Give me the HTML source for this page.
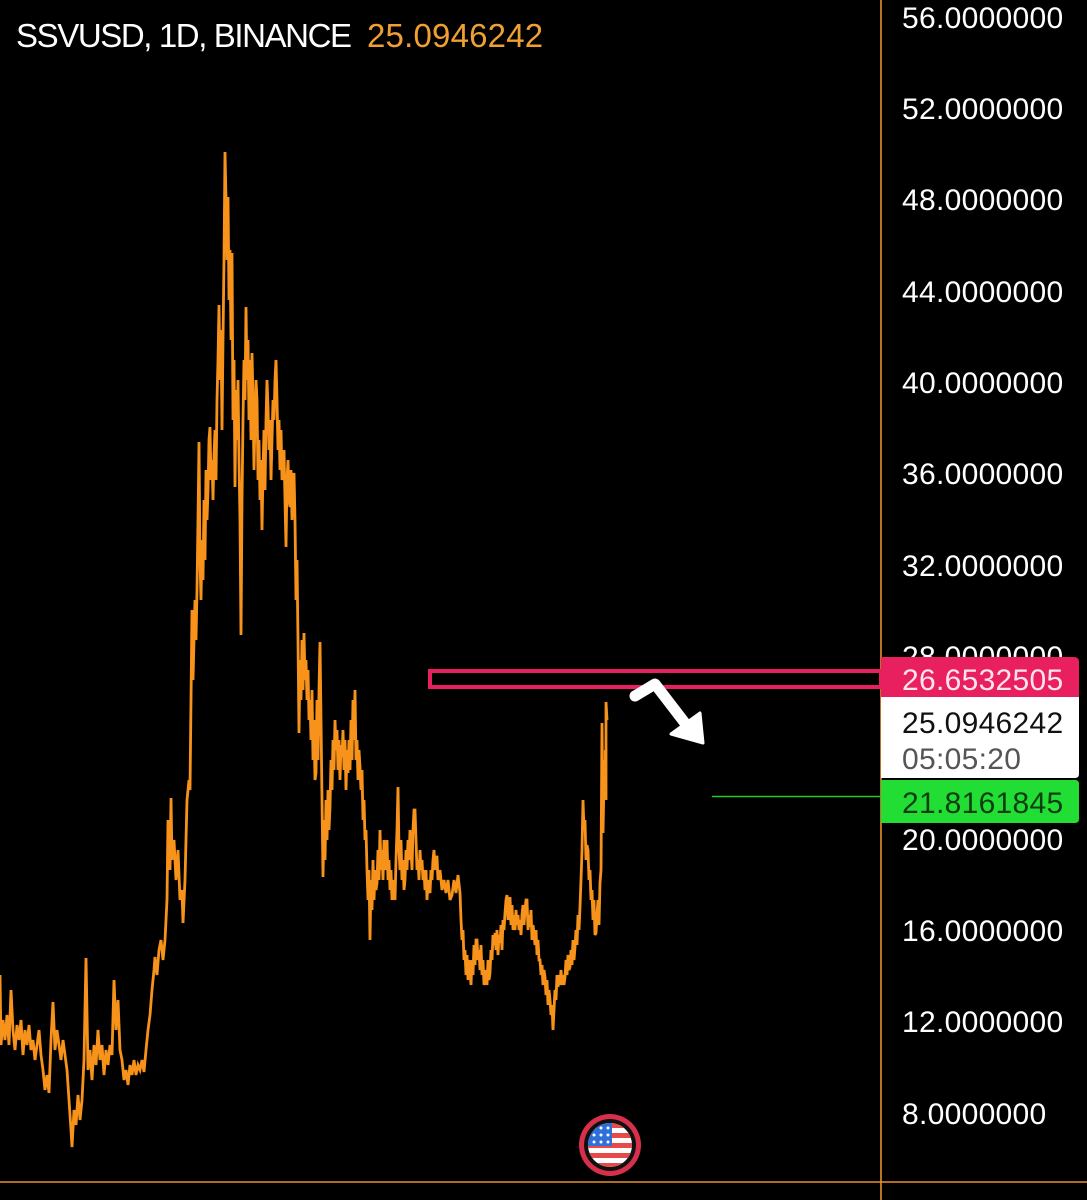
<!DOCTYPE html>
<html>
<head>
<meta charset="utf-8">
<style>
  html,body{margin:0;padding:0;background:#000;}
  body{width:1087px;height:1200px;overflow:hidden;}
  svg{display:block;}
  text{font-family:"Liberation Sans", Arial, sans-serif;}
</style>
</head>
<body>
<svg width="1087" height="1200" viewBox="0 0 1087 1200" xmlns="http://www.w3.org/2000/svg">
  <rect x="0" y="0" width="1087" height="1200" fill="#000"/>

  <!-- axes lines -->
  <line x1="881" y1="0" x2="881" y2="1200" stroke="#e8912a" stroke-width="1.6"/>
  <line x1="0" y1="1182" x2="1087" y2="1182" stroke="#e8912a" stroke-width="1.6"/>

  <!-- title -->
  <text x="16" y="47" font-size="33" fill="#ffffff" letter-spacing="-1.4">SSVUSD, 1D, BINANCE</text>
  <text x="367" y="47" font-size="33" fill="#f0a033" letter-spacing="0.2">25.0946242</text>

  <!-- price axis labels -->
  <g font-size="30" fill="#ffffff" letter-spacing="0.3">
    <text x="902" y="28">56.0000000</text>
    <text x="902" y="119">52.0000000</text>
    <text x="902" y="210">48.0000000</text>
    <text x="902" y="302">44.0000000</text>
    <text x="902" y="393">40.0000000</text>
    <text x="902" y="484">36.0000000</text>
    <text x="902" y="576">32.0000000</text>
    <text x="902" y="667">28.0000000</text>
    <text x="902" y="850">20.0000000</text>
    <text x="902" y="941">16.0000000</text>
    <text x="902" y="1032">12.0000000</text>
    <text x="902" y="1124">8.0000000</text>
  </g>

  <!-- price series -->
  <polyline fill="none" stroke="#f7931a" stroke-width="2.8" stroke-linejoin="miter" points="
0,975 1,1045 3,1020 5,1040 7,1015 9,1045 11,990 13,1030 15,1050 17,1025 19,1040 21,1020 23,1055 25,1030 27,1045 29,1025 31,1050 33,1040 35,1060 37,1045 39,1030 41,1055 43,1070 45,1090 47,1075 49,1093 51,1040 53,1002 55,1050 57,1030 59,1045 61,1060 63,1040 65,1055 67,1070 69,1100 71,1130 72,1147 74,1110 76,1125 78,1095 80,1120 82,1100 84,1060 86,958 88,1070 90,1050 92,1080 94,1045 96,1065 98,1030 100,1060 102,1045 104,1075 106,1050 108,1065 110,1045 112,1055 114,980 116,1030 118,1000 120,1050 122,1060 124,1080 126,1070 128,1085 130,1065 132,1075 134,1060 136,1075 138,1065 140,1070 142,1060 144,1072 146,1050 148,1030 150,1015 152,990 154,970 155,957 157,975 159,950 161,940 163,960 165,940 167,900 168,820 169,830 170,870 171,798 172,860 174,840 176,880 178,850 180,900 182,890 183,923 185,880 187,800 189,780 190,790
191,700 192,610 193,680 194,640 195,600 196,640 197,590 198,520 199,442 200,560 201,600 202,540 203,580 204,500 205,560 206,470 207,520 208,490 209,440 210,427 211,480 212,460 213,500 214,455 215,430 216,480 217,400 218,360 219,305 220,380 221,330 222,430 223,340 224,260 225,152 226,200 227,260 228,197 229,300 230,250 231,340 232,253 233,420 234,360 235,487 236,390 237,440 238,380 239,460 240,520 241,635 242,500 243,420 244,360 245,400 246,307 247,380 248,340 249,420 250,360 251,440 252,353 253,400 254,470 255,420 256,380 257,400 258,480 259,440 260,500 261,460 262,530 263,470 264,430 265,490 266,420 267,380 268,407 269,450 270,420 271,480 272,440 273,400 274,420 275,380 276,360 277,400 278,450 279,420 280,470 281,430 282,480 283,473 284,450 285,500 286,547 287,480 288,460 289,500 290,507 291,470 292,520 293,480 294,473 295,520 296,600 297,560 298,640 299,733 300,660
301,700 302,640 303,690 304,633 305,680 306,660 307,700 308,670 309,720 310,700 311,740 312,690 313,760 314,720 315,780 316,773 317,700 318,760 319,690 320,642 321,720 322,800 323,877 324,820 325,860 326,800 327,840 328,790 329,830 330,807 331,760 332,790 333,740 334,770 335,720 336,750 337,730 338,770 339,740 340,780 341,745 342,757 343,730 344,770 345,740 346,790 347,750 348,773 349,740 350,770 351,720 352,760 353,700 354,740 355,690 356,760 357,740 358,780 359,750 360,767 361,790 362,770 363,820 364,800 365,840 366,830 367,870 368,900 369,870 370,940 371,880 372,910 373,860 374,900 375,870 376,890 377,883 378,850 379,880 380,830 381,870 382,850 383,880 384,840 385,850 386,870 387,840 388,880 389,860 390,890 391,870 392,900 393,880 394,890 395,900 396,860 397,830 398,787 399,850 400,870
401,840 402,880 403,860 404,890 405,880 406,850 407,870 408,840 409,860 410,830 411,850 412,870 413,830 414,810 415,810 416,840 417,870 418,860 419,880 420,850 421,870 422,860 423,880 424,870 425,890 426,870 427,900 428,880 429,890 430,893 431,870 432,880 433,860 434,850 435,870 436,857 437,857 438,880 440,870 442,890 444,880 446,893 448,880 450,900 452,895 454,880 456,893 458,875 460,893 461,920 462,940 463,930 464,960 465,950 466,975 467,955 468,980 469,960 470,970 471,985 472,960 473,975 474,945 475,965 476,940 477,940 478,960 479,950 480,970 481,945 482,975 483,960 484,985 485,980 486,970 487,985 488,960 489,980 490,973 491,950 492,960 493,935 494,945 495,933 496,950 497,930 498,955 499,935 500,943
501,925 502,950 503,920 504,930 505,913 506,900 507,895 508,920 509,910 510,897 511,925 512,905 513,930 514,915 515,930 516,910 517,925 518,915 519,930 520,920 521,935 522,915 523,905 524,925 525,910 526,900 527,900 528,930 529,915 530,927 531,910 532,940 533,925 534,933 535,945 536,930 537,955 538,940 539,960 540,960 541,975 542,965 543,985 544,970 545,977 546,995 547,980 548,1005 549,990 550,1000 551,1015 552,1005 553,1030 554,1010 555,990 556,1000 557,975 558,987 559,975 560,985 561,970 562,985 563,975 564,985 565,977 566,960 567,975 568,955 569,970 570,967 571,950 572,965 573,940 574,960 575,947 576,930 577,945 578,915 579,930 580,907 581,880 582,850 583,800 584,830 585,820 586,860 587,845 588,850 589,880 590,870 591,900 592,890 593,920 594,900 595,935 596,933 597,915 598,900 599,925 600,883 601,870 602,723 603,833 604,780 605,760 606,800 606,702 607,720
"/>
  <!-- last candle body emphasis -->
  <line x1="605.5" y1="750" x2="605.5" y2="800" stroke="#f7931a" stroke-width="3.2"/>

  <!-- pink resistance rectangle -->
  <rect x="430" y="671" width="451" height="16" fill="none" stroke="#e8205f" stroke-width="4"/>

  <!-- green line -->
  <line x1="712" y1="796.5" x2="881" y2="796.5" stroke="#22cc22" stroke-width="1.5"/>

  <!-- white arrow -->
  <polyline points="635,696 655,684 688,727" fill="none" stroke="#ffffff" stroke-width="11" stroke-linejoin="round" stroke-linecap="round"/>
  <polygon points="700,713 703,743 671,734" fill="#ffffff" stroke="#ffffff" stroke-width="3" stroke-linejoin="round"/>

  <!-- price labels -->
  <path d="M881,657 H1074 Q1079,657 1079,662 V697 H881 Z" fill="#e8205f"/>
  <text x="902" y="690" font-size="30" fill="#ffe4ee" letter-spacing="0.3">26.6532505</text>

  <path d="M881,697 H1079 V774 Q1079,778 1075,778 H881 Z" fill="#ffffff"/>
  <text x="902" y="733" font-size="30" fill="#111111" letter-spacing="0.3">25.0946242</text>
  <text x="902" y="769" font-size="30" fill="#555555" letter-spacing="0.3">05:05:20</text>

  <path d="M881,780 H1075 Q1079,780 1079,784 V819 Q1079,823 1075,823 H881 Z" fill="#22dd33"/>
  <text x="902" y="813" font-size="30" fill="#0f3d12" letter-spacing="0.3">21.8161845</text>

  <!-- US flag icon -->
  <g>
    <circle cx="610" cy="1145" r="31" fill="#d8304a"/>
    <circle cx="610" cy="1145" r="26" fill="#111"/>
    <clipPath id="fc"><circle cx="610" cy="1145" r="22"/></clipPath>
    <g clip-path="url(#fc)">
      <rect x="586" y="1121" width="48" height="48" fill="#ffffff"/>
      <rect x="586" y="1123" width="48" height="5" fill="#e84a4a"/>
      <rect x="586" y="1133" width="48" height="5" fill="#e84a4a"/>
      <rect x="586" y="1143" width="48" height="5" fill="#e84a4a"/>
      <rect x="586" y="1153" width="48" height="5" fill="#e84a4a"/>
      <rect x="586" y="1163" width="48" height="6" fill="#e84a4a"/>
      <rect x="586" y="1121" width="26" height="25" fill="#2f6fd8"/>
      <g fill="#fff">
        <circle cx="594" cy="1128" r="1.5"/><circle cx="601" cy="1128" r="1.5"/><circle cx="608" cy="1128" r="1.5"/>
        <circle cx="594" cy="1135" r="1.5"/><circle cx="601" cy="1135" r="1.5"/><circle cx="608" cy="1135" r="1.5"/>
        <circle cx="594" cy="1142" r="1.5"/><circle cx="601" cy="1142" r="1.5"/><circle cx="608" cy="1142" r="1.5"/>
      </g>
    </g>
  </g>
</svg>
</body>
</html>
